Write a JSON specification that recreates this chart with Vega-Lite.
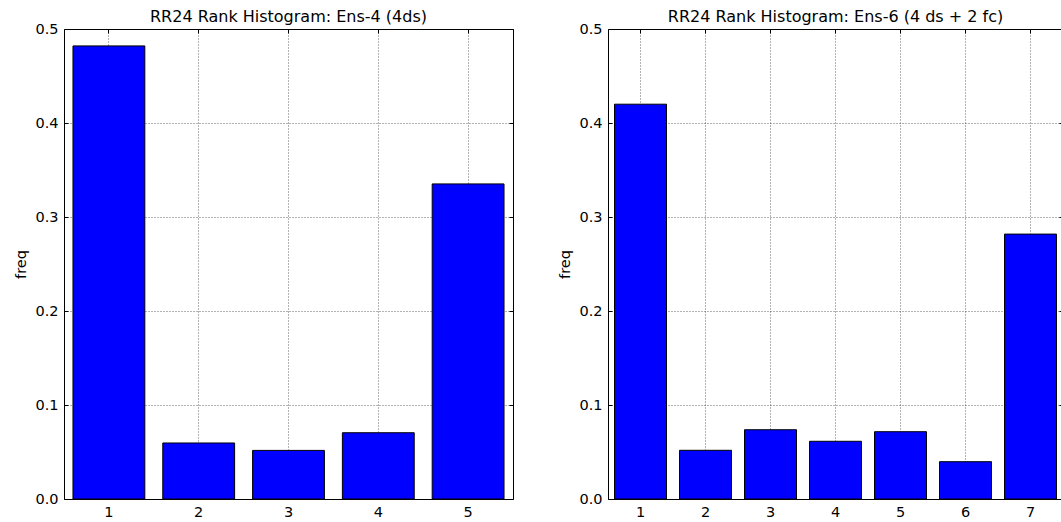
{
  "$schema": "https://vega.github.io/schema/vega-lite/v6.json",
  "background": "white",
  "padding": {"left": 13, "top": 8, "right": 0, "bottom": 0},
  "spacing": 43,
  "config": {
    "font": "DejaVu Sans",
    "view": {"stroke": "black", "strokeWidth": 1},
    "axis": {
      "labelFont": "DejaVu Sans", "labelFontSize": 14.5, "labelColor": "black",
      "titleFont": "DejaVu Sans", "titleFontSize": 14.5, "titleFontWeight": "normal", "titleColor": "black",
      "domain": false, "tickColor": "black", "tickSize": -4, "labelPadding": 10,
      "grid": true, "gridColor": "#000000", "gridOpacity": 0.6, "gridDash": [1, 2], "gridWidth": 1,
      "zindex": 1
    },
    "title": {"font": "DejaVu Sans", "fontSize": 16, "fontWeight": "normal", "color": "black", "offset": -4}
  },
  "datasets": {
    "ens4": [
      {"rank": 1, "freq": 0.482},
      {"rank": 2, "freq": 0.0596},
      {"rank": 3, "freq": 0.0517},
      {"rank": 4, "freq": 0.0705},
      {"rank": 5, "freq": 0.3352}
    ],
    "ens6": [
      {"rank": 1, "freq": 0.420},
      {"rank": 2, "freq": 0.0518},
      {"rank": 3, "freq": 0.0737},
      {"rank": 4, "freq": 0.0614},
      {"rank": 5, "freq": 0.0716},
      {"rank": 6, "freq": 0.0397},
      {"rank": 7, "freq": 0.2818}
    ]
  },
  "hconcat": [
    {
      "width": 449, "height": 470,
      "title": "RR24 Rank Histogram: Ens-4 (4ds)",
      "data": {"name": "ens4"},
      "layer": [
        {
          "mark": {"type": "bar", "fill": "#0000ff", "stroke": "black", "strokeWidth": 1},
          "encoding": {
            "x": {"field": "rank", "type": "ordinal", "scale": {"paddingInner": 0.2, "paddingOuter": 0.1},
                  "axis": {"labelAngle": 0, "title": null, "bandPosition": 0.5}},
            "y": {"field": "freq", "type": "quantitative", "scale": {"domain": [0, 0.5], "nice": false},
                  "axis": {"values": [0, 0.1, 0.2, 0.3, 0.4, 0.5], "format": ".1f", "title": "freq", "titlePadding": 6}}
          }
        },
        {
          "mark": {"type": "bar", "opacity": 0},
          "encoding": {
            "x": {"field": "rank", "type": "ordinal", "scale": {"paddingInner": 0.2, "paddingOuter": 0.1},
                  "axis": {"orient": "top", "labels": false, "title": null, "grid": false, "bandPosition": 0.5}},
            "y": {"field": "freq", "type": "quantitative", "scale": {"domain": [0, 0.5], "nice": false},
                  "axis": {"orient": "right", "values": [0, 0.1, 0.2, 0.3, 0.4, 0.5], "labels": false, "title": null, "grid": false}}
          }
        }
      ],
      "resolve": {"axis": {"x": "independent", "y": "independent"}}
    },
    {
      "width": 455, "height": 470,
      "title": "RR24 Rank Histogram: Ens-6 (4 ds + 2 fc)",
      "data": {"name": "ens6"},
      "layer": [
        {
          "mark": {"type": "bar", "fill": "#0000ff", "stroke": "black", "strokeWidth": 1},
          "encoding": {
            "x": {"field": "rank", "type": "ordinal", "scale": {"paddingInner": 0.2, "paddingOuter": 0.1},
                  "axis": {"labelAngle": 0, "title": null, "bandPosition": 0.5}},
            "y": {"field": "freq", "type": "quantitative", "scale": {"domain": [0, 0.5], "nice": false},
                  "axis": {"values": [0, 0.1, 0.2, 0.3, 0.4, 0.5], "format": ".1f", "title": "freq", "titlePadding": 6}}
          }
        },
        {
          "mark": {"type": "bar", "opacity": 0},
          "encoding": {
            "x": {"field": "rank", "type": "ordinal", "scale": {"paddingInner": 0.2, "paddingOuter": 0.1},
                  "axis": {"orient": "top", "labels": false, "title": null, "grid": false, "bandPosition": 0.5}},
            "y": {"field": "freq", "type": "quantitative", "scale": {"domain": [0, 0.5], "nice": false},
                  "axis": {"orient": "right", "values": [0, 0.1, 0.2, 0.3, 0.4, 0.5], "labels": false, "title": null, "grid": false}}
          }
        }
      ],
      "resolve": {"axis": {"x": "independent", "y": "independent"}}
    }
  ]
}
